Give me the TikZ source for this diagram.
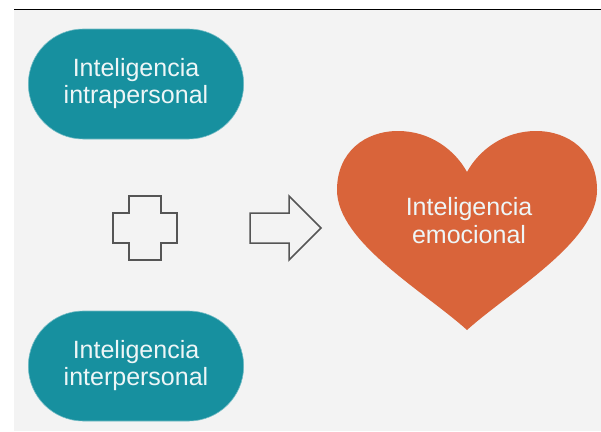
\documentclass[tikz,border=0pt]{standalone}
\usepackage{fontspec}
\setmainfont{Liberation Sans}
\usetikzlibrary{shapes.misc}
\definecolor{bgray}{HTML}{F3F3F3}
\definecolor{teal1}{HTML}{17909F}
\definecolor{heartc}{HTML}{D9643A}
\definecolor{outl}{HTML}{555555}
\definecolor{txtw}{HTML}{EEF6F7}
\begin{document}
\begin{tikzpicture}[x=1pt,y=-1pt,
  pill/.style={rounded rectangle, fill=teal1, draw=teal1!60!white, line width=0.6pt,
    minimum width=222pt, minimum height=110pt, align=center, text=txtw,
    font=\fontsize{25}{27}\selectfont},
  symb/.style={draw=outl, line width=1.5pt, fill=bgray, line join=miter},
  htext/.style={align=center, text=txtw, font=\fontsize{25}{28}\selectfont}]
\useasboundingbox (0,0) rectangle (601,431);
\fill[white] (0,0) rectangle (601,431);
\fill[bgray] (14,10) rectangle (601,431);
\draw[black, line width=1.8pt] (14,9.5) -- (601,9.5);
% pills
\node[pill] (intra) at (136,84) {Inteligencia\\intrapersonal};
\node[pill] (inter) at (136,366) {Inteligencia\\interpersonal};
% plus sign
\draw[symb] (129,196) -- (161,196) -- (161,213) -- (177,213) -- (177,243) -- (161,243)
  -- (161,260) -- (129,260) -- (129,243) -- (113,243) -- (113,213) -- (129,213) -- cycle;
% arrow
\draw[symb] (250,213) -- (289,213) -- (289,196) -- (321,228) -- (289,260) -- (289,243)
  -- (250,243) -- cycle;
% heart
\fill[heartc] (467,330) .. controls (425,292) and (337,242) .. (337,190)
  .. controls (337,152) and (365,131) .. (398,131)
  .. controls (430,131) and (455,150) .. (467,172)
  .. controls (479,150) and (504,131) .. (536,131)
  .. controls (569,131) and (597,152) .. (597,190)
  .. controls (597,242) and (509,292) .. (467,330) -- cycle;
\node[htext] (emo) at (469,221) {Inteligencia\\emocional};
\end{tikzpicture}
\end{document}
